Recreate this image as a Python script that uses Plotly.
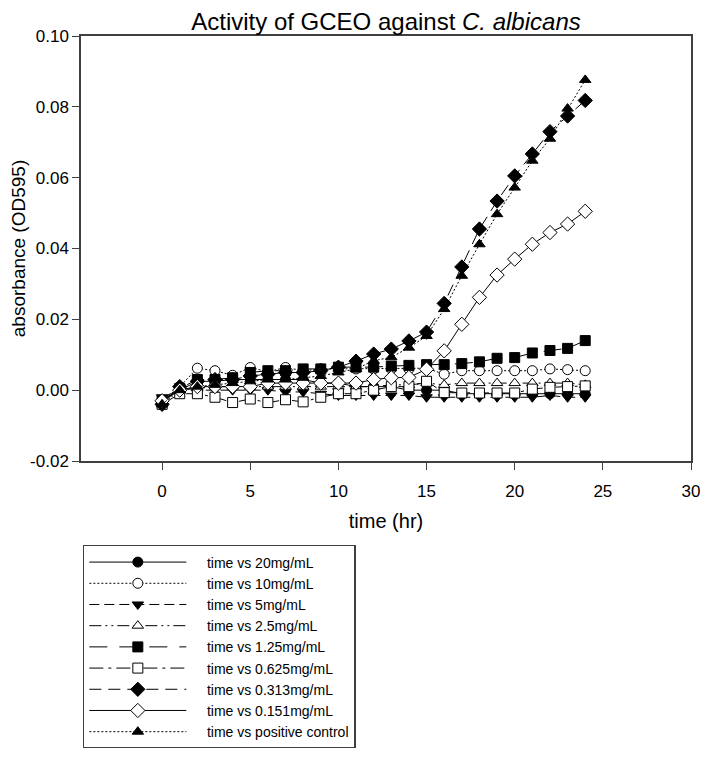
import plotly.graph_objects as go

time_hr = list(range(0, 25))

series_names = [
    "time vs 20mg/mL", "time vs 10mg/mL", "time vs 5mg/mL", "time vs 2.5mg/mL",
    "time vs 1.25mg/mL", "time vs 0.625mg/mL", "time vs 0.313mg/mL",
    "time vs 0.151mg/mL", "time vs positive control",
]

c20 = [-0.003, 0.000, 0.0025, 0.0025, 0.003, 0.003, 0.003, 0.003, 0.003, 0.002, 0.002, 0.001, 0.001,
       0.001, 0.000, 0.000, 0.000, -0.001, -0.001, -0.001, -0.001, -0.001, -0.001, -0.001, -0.001]
c10 = [-0.003, 0.001, 0.0062, 0.0055, 0.0042, 0.0064, 0.0052, 0.0064, 0.0055, 0.006, 0.006, 0.006, 0.006,
       0.006, 0.006, 0.0062, 0.0045, 0.0055, 0.0055, 0.0055, 0.0055, 0.0055, 0.006, 0.0058, 0.0055]
c5 = [-0.002, 0.000, 0.000, 0.000, 0.000, 0.000, 0.000, -0.0005, -0.0005, -0.001, -0.0015, -0.0015, -0.0015,
      -0.0015, -0.0015, -0.002, -0.002, -0.002, -0.002, -0.002, -0.002, -0.002, -0.0015, -0.002, -0.002]
c2_5 = [-0.003, 0.000, 0.0005, 0.001, 0.001, 0.001, 0.001, 0.001, 0.001, 0.001, 0.001, 0.001, 0.001,
        0.0015, 0.0015, 0.002, 0.0015, 0.002, 0.002, 0.002, 0.002, 0.002, 0.002, 0.002, 0.0015]
c1_25 = [-0.003, 0.0005, 0.003, 0.003, 0.0035, 0.005, 0.0055, 0.0055, 0.006, 0.006, 0.0065, 0.0065, 0.0065,
         0.0068, 0.007, 0.0072, 0.0072, 0.0075, 0.008, 0.009, 0.0092, 0.0105, 0.0112, 0.0118, 0.014]
c0_625 = [-0.004, -0.001, -0.001, -0.002, -0.0035, -0.0025, -0.0035, -0.0027, -0.0033, -0.002, -0.001, -0.001, 0.000,
          0.001, 0.001, 0.0025, -0.0007, -0.0008, -0.0008, -0.0008, -0.0008, 0.0003, 0.0008, 0.001, 0.0012]
c0_313 = [-0.004, 0.001, 0.0025, 0.003, 0.003, 0.004, 0.0045, 0.005, 0.005, 0.0055, 0.0065, 0.0082, 0.0102,
          0.0116, 0.0139, 0.0164, 0.0245, 0.0348, 0.0455, 0.0534, 0.0605, 0.0667, 0.0730, 0.0774, 0.0818]
c0_151 = [-0.003, 0.000, 0.001, 0.001, 0.001, 0.001, 0.002, 0.002, 0.002, 0.002, 0.002, 0.002, 0.003,
          0.0035, 0.0036, 0.0059, 0.0111, 0.0186, 0.0262, 0.0325, 0.0370, 0.0412, 0.0445, 0.0469, 0.0505]
pos_ctrl = [-0.004, 0.000, 0.001, 0.0015, 0.002, 0.0025, 0.003, 0.003, 0.0035, 0.004, 0.005, 0.006, 0.0083,
            0.0093, 0.0120, 0.0153, 0.0229, 0.0323, 0.0412, 0.0497, 0.0572, 0.0648, 0.0710, 0.0795, 0.0876]

values = [c20, c10, c5, c2_5, c1_25, c0_625, c0_313, c0_151, pos_ctrl]

x_tickvals = [0, 5, 10, 15, 20, 25, 30]
y_tickvals = [-0.02, 0.0, 0.02, 0.04, 0.06, 0.08, 0.10]
y_ticktext = ["-0.02", "0.00", "0.02", "0.04", "0.06", "0.08", "0.10"]

# styles: (symbol, fill, dash)
styles = [
    ("circle", "black", "solid"),
    ("circle", "white", "2px,2px"),
    ("triangle-down", "black", "10px,5px"),
    ("triangle-up", "white", "12px,4px,2px,4px,2px,4px"),
    ("square", "black", "18px,12px"),
    ("square", "white", "14px,5px,3px,5px"),
    ("diamond", "black", "12px,7px"),
    ("diamond", "white", "solid"),
    ("triangle-up", "black", "2px,2px"),
]

fig = go.Figure()
for name, vals, (sym, fill, dash) in zip(series_names, values, styles):
    fig.add_trace(go.Scatter(
        x=time_hr, y=vals, name="\u00a0\u00a0\u00a0\u00a0" + name, mode="lines+markers",
        line=dict(color="black", width=1, dash=dash),
        marker=dict(symbol=sym, size=10 if "diamond" not in sym else 11, color=fill,
                    line=dict(color="black", width=1)),
    ))

font_family = "Liberation Sans, Arial, sans-serif"
fig.update_layout(
    template="none",
    width=692, height=740,
    margin=dict(l=73, r=9, t=28, b=287, autoexpand=False),
    paper_bgcolor="white", plot_bgcolor="white",
    font=dict(family=font_family, color="black"),
    title=dict(text="Activity of GCEO against <i>C. albicans</i>", x=0.5, xref="paper",
               xanchor="center", y=1 - 5 / 740, yanchor="top", font=dict(size=24)),
    xaxis=dict(range=[-4.6, 30], tickvals=x_tickvals, ticks="outside", ticklen=7,
               tickcolor="#404040", tickwidth=1.2, showline=True, linecolor="#404040", linewidth=1.5,
               mirror=True, automargin=False, ticklabelstandoff=7, ticklabeloverflow="allow",
               showgrid=False, zeroline=False, tickfont=dict(size=17),
               title=dict(text="time (hr)", font=dict(size=20), standoff=14)),
    yaxis=dict(range=[-0.02, 0.10], tickvals=y_tickvals, ticktext=y_ticktext,
               ticks="outside", ticklen=7, tickcolor="#404040", tickwidth=1.2,
               showline=True, linecolor="#404040", linewidth=1.5, mirror=True, automargin=False,
               showgrid=False, zeroline=False, tickfont=dict(size=17),
               title=dict(text="absorbance (OD595)", font=dict(size=19), standoff=2)),
    showlegend=True,
    legend=dict(x=0.003, xanchor="left", y=-0.1976, yanchor="top", bgcolor="white",
                bordercolor="#404040", borderwidth=1.5, font=dict(size=14),
                itemwidth=97, traceorder="normal"),
)

fig.write_html("out.html")
